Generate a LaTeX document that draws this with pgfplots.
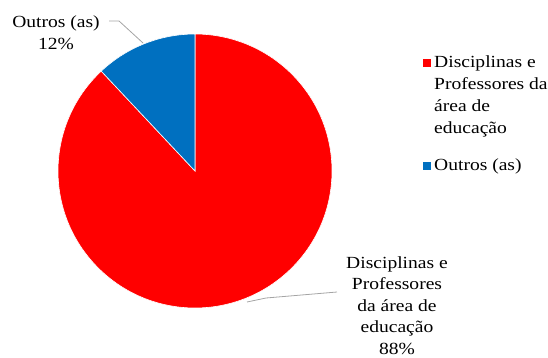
\documentclass[border=0pt]{standalone}
\usepackage{pgfplots}
\usepackage{pgfplotstable}
\pgfplotsset{compat=1.18}
\usepackage{fontspec}
\setmainfont{Liberation Serif}[FakeStretch=1.15]
\newcommand\lbl{\fontsize{17bp}{22bp}\selectfont}
\newcommand\lblb{\fontsize{17bp}{21.6bp}\selectfont}

\definecolor{pieRed}{RGB}{255,0,0}
\definecolor{pieBlue}{RGB}{0,112,192}
\definecolor{leader}{RGB}{165,165,165}

\pgfplotstableread{
label value
Disciplinas 88
Outros 12
}\piedata

\newcommand\key[1]{\raisebox{0.5bp}{\textcolor{#1}{\rule{8bp}{8bp}}}}

\begin{document}
\begin{tikzpicture}
\pgfplotstablegetelem{0}{value}\of\piedata \let\vA\pgfplotsretval
\pgfplotstablegetelem{1}{value}\of\piedata \let\vB\pgfplotsretval
\pgfmathsetmacro\total{\vA+\vB}
\pgfmathsetmacro\angB{90+360*\vB/\total}
\begin{axis}[name=ax, scale only axis, width=548bp, height=358bp,
  xmin=0, xmax=548, ymin=0, ymax=358, y dir=reverse, hide axis, clip=false]

\fill[pieRed, draw=white, line width=0.6bp] (axis cs:195,171) -- ++(\angB:137bp)
  arc[start angle=\angB, end angle=450, radius=137bp] -- cycle;
\fill[pieBlue, draw=white, line width=0.6bp] (axis cs:195,171) -- ++(90:137bp)
  arc[start angle=90, end angle=\angB, radius=137bp] -- cycle;

\draw[leader, line width=0.8bp] (axis cs:109,21) -- (axis cs:119,21) -- (axis cs:143,43);
\draw[leader, line width=0.8bp] (axis cs:247,302) -- (axis cs:266,298) -- (axis cs:337,292);

\node[anchor=base, inner sep=0pt, font=\lbl] at (axis cs:56,28)
  {\begin{tabular}[t]{@{}c@{}}Outros (as)\\12\%\end{tabular}};
\node[anchor=base, inner sep=0pt, font=\lblb] at (axis cs:397,268)
  {\begin{tabular}[t]{@{}c@{}}Disciplinas e\\Professores\\da área de\\educação\\88\%\end{tabular}};

% legend
\node[anchor=base west, inner sep=0pt, font=\lbl] at (axis cs:423,67)
  {\begin{tabular}[t]{@{}l@{\hspace{3bp}}l@{}}
   \key{pieRed} & Disciplinas e\\
                & Professores da\\
                & área de\\
                & educação\\[15bp]
   \key{pieBlue} & Outros (as)
   \end{tabular}};
\end{axis}
\pgfresetboundingbox
\path (ax.south west) rectangle (ax.north east);
\end{tikzpicture}
\end{document}
